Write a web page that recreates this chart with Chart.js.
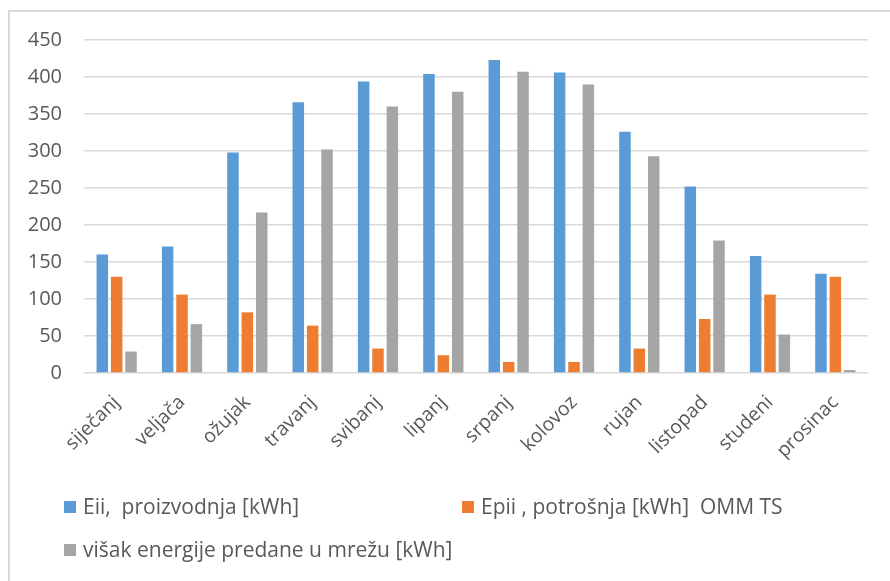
<!DOCTYPE html>
<html>
<head>
<meta charset="utf-8">
<script src="https://cdn.jsdelivr.net/npm/chart.js@4.4.1/dist/chart.umd.min.js"></script>
<style>
  html, body { margin: 0; padding: 0; background: #fff; }
  body { width: 890px; height: 581px; position: relative; overflow: hidden;
         font-family: "Open Sans", sans-serif; }
  #frame { position: absolute; left: 8px; top: 10px; width: 900px; height: 600px;
           border: 2px solid #d9d9d9; box-sizing: border-box; }
  #chart { position: absolute; left: 0; top: 0; }
  .leg { position: absolute; font-size: 21px; color: #595959; white-space: pre; line-height: 24px; }
  .leg i { position: absolute; left: 0; top: 7px; width: 12px; height: 12px; }
  .leg span { padding-left: 19px; }
</style>
</head>
<body>
<div id="frame"></div>
<canvas id="chart" width="890" height="581"></canvas>
<div class="leg" style="left:64px; top:494px;"><i style="background:#5B9BD5"></i><span>Eii,  proizvodnja [kWh]</span></div>
<div class="leg" style="left:462px; top:494px;"><i style="background:#ED7D31"></i><span>Epii , potrošnja [kWh]  OMM TS</span></div>
<div class="leg" style="left:64px; top:537px;"><i style="background:#A5A5A5"></i><span>višak energije predane u mrežu [kWh]</span></div>
<script>
const months = ['siječanj', 'veljača', 'ožujak', 'travanj', 'svibanj', 'lipanj',
                'srpanj', 'kolovoz', 'rujan', 'listopad', 'studeni', 'prosinac'];
const proizvodnja = [160, 171, 298, 366, 394, 404, 423, 406, 326, 252, 158, 134];
const potrosnja   = [130, 106, 82, 64, 33, 24, 15, 15, 33, 73, 106, 130];
const visak       = [29, 66, 217, 302, 360, 380, 407, 390, 293, 179, 52, 4];
const yTicks = [0, 50, 100, 150, 200, 250, 300, 350, 400, 450];

const font = '"Open Sans", sans-serif';

new Chart(document.getElementById('chart'), {
  type: 'bar',
  data: {
    labels: months,
    datasets: [
      { label: 'Eii,  proizvodnja [kWh]', data: proizvodnja, backgroundColor: '#5B9BD5' },
      { label: 'Epii , potrošnja [kWh]  OMM TS', data: potrosnja, backgroundColor: '#ED7D31' },
      { label: 'višak energije predane u mrežu [kWh]', data: visak, backgroundColor: '#A5A5A5' }
    ]
  },
  options: {
    responsive: false,
    animation: false,
    layout: { padding: { left: 0, right: 22, top: 40, bottom: 0 } },
    datasets: { bar: { categoryPercentage: 0.66, barPercentage: 0.8 } },
    plugins: { legend: { display: false }, tooltip: { enabled: false } },
    scales: {
      x: {
        grid: { display: false },
        border: { display: false },
        ticks: {
          color: '#595959', font: { family: font, size: 19.5 },
          maxRotation: 45, minRotation: 45, padding: 10
        },
        afterCalculateLabelRotation(scale) { scale.labelRotation = 45; },
        afterFit(scale) { scale.height = 208; }
      },
      y: {
        min: 0, max: 450,
        afterBuildTicks(scale) { scale.ticks = yTicks.map(v => ({ value: v })); },
        grid: { color: '#d9d9d9', lineWidth: 1.5, drawTicks: false },
        border: { display: false },
        ticks: { color: '#595959', font: { family: font, size: 20 }, padding: 22 },
        afterFit(scale) { scale.width = 84; }
      }
    }
  }
});
</script>
</body>
</html>
